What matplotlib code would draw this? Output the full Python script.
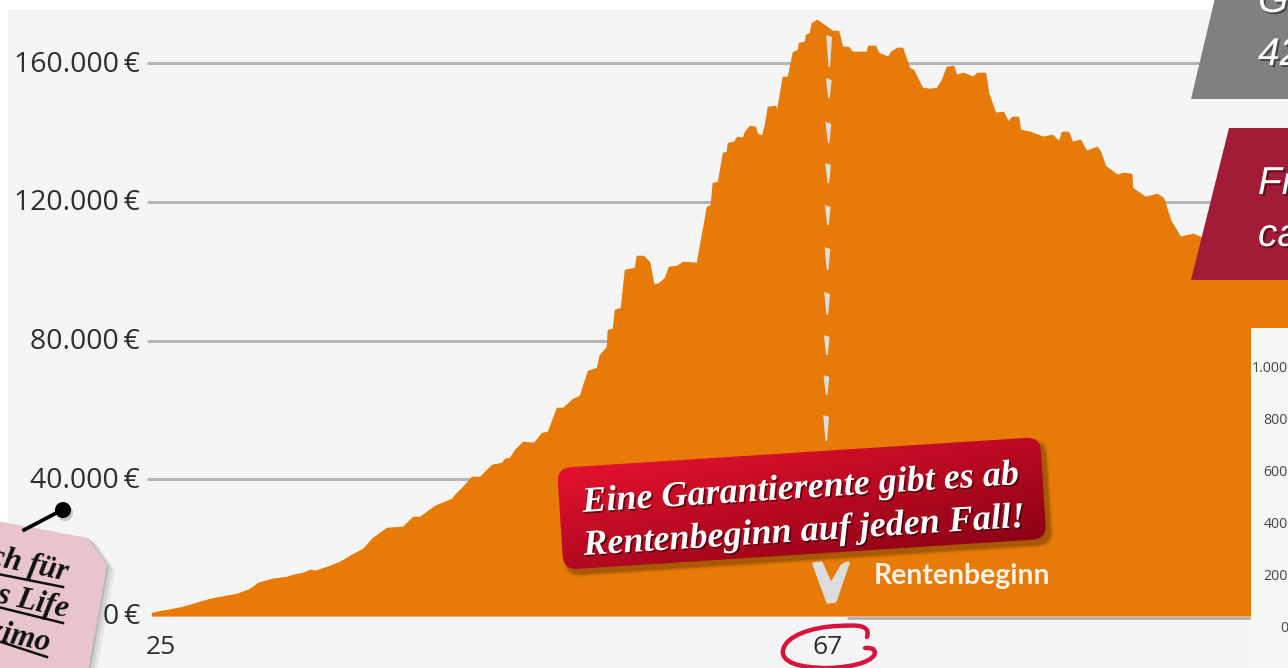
import numpy as np
import matplotlib
matplotlib.use("Agg")
import matplotlib.pyplot as plt
from matplotlib.patches import Rectangle, Polygon, FancyBboxPatch, Circle, PathPatch
from matplotlib.path import Path
from matplotlib.transforms import Affine2D, ScaledTranslation
import matplotlib.patheffects as pe

ages = [25.00,26.93,28.60,30.28,31.09,31.59,32.46,33.39,33.76,34.38,34.82,35.13,36.06,36.68,37.30,38.11,38.73,39.60,
        40.59,41.22,41.65,42.58,43.64,43.83,44.32,44.88,45.38,46.12,46.75,46.93,47.24,47.55,48.05,48.73,49.23,49.60,
        50.16,50.54,51.16,51.59,52.09,52.65,52.83,53.27,53.33,53.64,53.77,54.14,54.39,55.01,55.13,55.51,55.88,56.13,
        56.44,56.87,57.12,57.62,57.99,58.86,59.17,59.48,59.73,59.85,60.17,60.48,60.72,60.79,61.16,61.35,61.72,61.84,
        62.15,62.46,62.59,62.90,63.09,63.27,63.71,63.83,64.20,64.51,64.83,65.14,65.20,65.57,65.63,65.88,66.01,66.32,
        66.56,67.00,67.25,67.62,67.87,68.24,68.49,68.80,69.42,69.49,69.92,70.11,70.73,70.91,71.29,71.60,72.03,72.28,
        72.84,73.34,73.77,74.08,74.39,74.77,74.95,75.39,76.01,76.26,76.75,76.94,77.38,77.87,78.18,78.43,78.80,78.93,
        79.24,79.55,80.36,80.92,81.35,81.54,81.91,82.16,82.66,83.03,83.71,83.90,84.21,84.96,85.33,85.83,85.89,86.70,
        87.44,87.81,88.25,88.87,89.68,90.11,91.35,95.58]
euro = [1440,3170,5480,6920,8360,10090,11240,11820,12400,12970,13840,13550,14990,16140,17870,19890,23060,25950,
        26240,29120,29120,32290,34310,35460,37770,40650,40650,44110,44690,45840,46130,48430,50740,50450,53340,53620,
        60540,60540,63140,64000,71210,72080,75820,78130,83030,83320,88800,89370,100330,100910,104360,104360,102630,96290,
        96290,98020,101190,101480,102630,102350,110420,118490,119070,125410,125700,134060,134350,136940,137230,138670,138380,140110,
        141840,141560,139540,138960,142130,147320,147610,145880,155970,155970,163180,163750,165770,166060,168080,168660,171540,172400,
        171540,170100,169230,169230,164620,164620,163180,163180,163180,164910,164910,162890,161740,163180,164330,164330,158570,157990,
        152800,152510,152800,155110,158850,159140,156550,157120,155970,157120,157120,151360,145590,145880,142990,144440,144440,140690,
        140400,140110,138670,139250,137230,140110,140110,137230,137810,134640,135790,134350,130310,127720,128290,128010,123970,121370,
        122240,121090,114740,109840,110710,109840,106090,100330]
y_ticks = [0, 40000, 80000, 120000, 160000]
y_labels = ["0\u2009€", "40.000\u2009€", "80.000\u2009€", "120.000\u2009€", "160.000\u2009€"]
x_ticks = [25, 67]
x_labels = ["25", "67"]
inset_labels = ["1.000", "800", "600", "400", "200", "0"]

W, H = 1288, 668
fig = plt.figure(figsize=(W/100, H/100), dpi=100, facecolor="white")
fig.add_artist(Rectangle((8/W, 0), 1-8/W, 1-10/H, transform=fig.transFigure, fc="#f5f5f5", ec="none", zorder=-5))

# main chart: age 25 at x=152, 67 at x=828; 0 at y=618, 160000 at y=63
L, T, B = 147, 10, 618
ax = fig.add_axes([L/W, 1-B/H, 1-L/W, (B-T)/H])
ax.patch.set_visible(False)
ax.set_xlim(25-(152-L)/16.095, 25+(W-152)/16.095)
ax.set_ylim(0, (B-T)*288.3)
for s in ax.spines.values():
    s.set_visible(False)
ax.hlines(y_ticks[1:], ax.get_xlim()[0], ax.get_xlim()[1], color="#b5b5b5", lw=2.2, zorder=1)
ax.hlines(0, 68.2, ax.get_xlim()[1], color="#a8a8a8", lw=1.8, zorder=1, clip_on=False)
ax.fill_between(ages, euro, 800, facecolor="#e87b07", edgecolor="#e87b07", lw=1.2, joinstyle="round", zorder=2)
ax.set_yticks(y_ticks, y_labels, fontfamily="Open Sans", fontsize=20.4, color="#2e2e2e")
ax.set_xticks(x_ticks, x_labels, fontfamily="Open Sans", fontsize=19, color="#2e2e2e")
ax.tick_params(length=0, axis="y", pad=5)
ax.tick_params(length=0, axis="x", pad=12.5)
for i, t in enumerate(ax.get_yticklabels()):
    dy = 5 if i == 0 else 2
    t.set_transform(t.get_transform() + ScaledTranslation(0, dy/100, fig.dpi_scale_trans))
first = ax.get_xticklabels()[0]
first.set_transform(first.get_transform() + ScaledTranslation(9/100, 0, fig.dpi_scale_trans))

# overlay in pixel coordinates for pasted-on decorations
pix = fig.add_axes([0, 0, 1, 1], zorder=5)
pix.set_xlim(0, W); pix.set_ylim(H, 0); pix.axis("off"); pix.patch.set_visible(False)

# dashed start-of-pension marker
dashes = [(35,67),(78,98),(122,143),(163,183),(205,225),(247,270),(292,315),(335,355),(375,395),(415,441)]
for a, b in dashes:
    xc = 829.5 - (a/440)*3.5
    pix.add_patch(Polygon([(xc-3, a), (xc+2.8, a+2), (xc+0.9, b), (xc-0.7, b)], fc="#dedede", ec="none", zorder=3))
# chevron
pix.add_patch(Polygon([(814,564),(821,563),(831,585),(842,566),(848,563),(835,601),(828,602)], fc="#dcdcdc", ec="#dcdcdc",
                      lw=2.5, joinstyle="round"))
pix.text(874, 584, "Rentenbeginn", color="#fdf3e6", fontsize=20.4, fontweight="bold", family="Lato", va="baseline")

# slanted corner boxes
pix.add_patch(Polygon([(1215,-2),(W+2,-2),(W+2,99),(1191,99)], fc="#808080", ec="none"))
pix.add_patch(Polygon([(1229,128),(W+2,128),(W+2,280),(1191,280)], fc="#a31c37", ec="none"))
for txt, x, y in [("G", 1258, 12), ("42", 1258, 65), ("Fr", 1258, 194), ("ca", 1258, 246)]:
    pix.text(x, y, txt, family="Liberation Sans", style="italic", fontsize=28, color="white", va="baseline",
             clip_on=True, path_effects=[pe.withSimplePatchShadow(offset=(1.5,-1.5), shadow_rgbFace="k", alpha=0.4)])

# inset panel
pix.add_patch(Rectangle((1251, 328), 40, 345, fc="#f6f6f6", ec="none", zorder=4))
for lab, y in zip(inset_labels, [368, 421, 473, 525, 577, 629]):
    pix.text(1288, y, lab, ha="right", va="center", fontsize=10.2, color="#444444", family="Open Sans", zorder=5)

# tilted red callout with gradient
ang = 3.67
bw, bh = 484, 102
tf = Affine2D().rotate_deg(-ang).translate(557, 468) + pix.transData
for k, a in zip([7, 5, 3, 1], [0.05, 0.08, 0.12, 0.16]):
    pix.add_patch(FancyBboxPatch((4-k/2, 5-k/2), bw+k, bh+k, boxstyle="round,pad=0,rounding_size=14", fc="#3a2000", ec="none",
                                 alpha=a, transform=tf, zorder=6))
box = FancyBboxPatch((0, 0), bw, bh, boxstyle="round,pad=0,rounding_size=14", fc="none", ec="none", transform=tf, zorder=7)
pix.add_patch(box)
gx, gy = np.meshgrid(np.linspace(0, 1, 200), np.linspace(0, 1, 60))
g = np.clip(0.55*gx + 0.65*gy - 0.15, 0, 1)
c0, c1 = np.array([0.90, 0.07, 0.18]), np.array([0.50, 0.0, 0.07])
img = c0[None, None, :] + (c1-c0)[None, None, :]*g[..., None]
im = pix.imshow(img, extent=(550, 1050, 575, 435), aspect="auto", zorder=7, interpolation="bilinear")
im.set_clip_path(box)
pix.set_xlim(0, W); pix.set_ylim(H, 0)
for txt, x, y in [("Eine Garantierente gibt es ab", 583, 512), ("Rentenbeginn auf jeden Fall!", 584, 555)]:
    pix.text(x, y, txt, family="Liberation Serif", style="italic", fontweight="bold", fontsize=26, color="white",
             rotation=ang, rotation_mode="anchor", va="baseline", ha="left", zorder=8,
             path_effects=[pe.withSimplePatchShadow(offset=(1.2,-1.2), shadow_rgbFace="k", alpha=0.5)])

# hand-drawn circle around 67
verts = [(865,648),(869,648),(873,649),(875,652),
         (875,660),(858,667),(828,668),(798,668),(781,662),(783,650),
         (786,636),(811,627),(838,626),(855,625),(871,624),(867,637)]
codes = [Path.MOVETO]+[Path.LINETO]*3+[Path.CURVE4]*12
pix.add_patch(PathPatch(Path(verts, codes), fc="none", ec="#d9143c", lw=3.2, capstyle="round", clip_on=False))

# pink note with pin
tag = [(-3,521),(88,538),(107,565),(88,672),(-3,672)]
for k, a in zip([8,5,2],[0.06,0.08,0.12]):
    pix.add_patch(Polygon([(x+k, y+k*0.6) for x, y in tag], fc="k", ec="none", alpha=a, zorder=9))
pix.add_patch(Polygon(tag, fc="#e8c5cc", ec="none", zorder=10))
for txt, x, y, u in [("Auch für", 67, 581, ((-2,574),(63,587))),
                     ("Swiss Life", 67, 617, ((-2,607),(63,623))),
                     ("Maximo", 49, 651, ((-2,641),(47,657)))]:
    pix.text(x, y, txt, family="Liberation Serif", style="italic", fontweight="bold", fontsize=22.5, color="#111111",
             rotation=-12, rotation_mode="anchor", ha="right", va="baseline", zorder=11)
    pix.plot([u[0][0], u[1][0]], [u[0][1], u[1][1]], color="#111111", lw=1.8, zorder=11)
pix.plot([24,62], [530,510], color="#7a7a7a", lw=3, alpha=0.35, zorder=8)
pix.plot([24,62], [530,510], color="k", lw=2.6, zorder=11)
pix.add_patch(Circle((65,513), 8, fc="k", alpha=0.2, ec="none", zorder=8))
pix.add_patch(Circle((63,510), 8, fc="k", ec="none", zorder=11))

fig.savefig("out.png", dpi=100)
